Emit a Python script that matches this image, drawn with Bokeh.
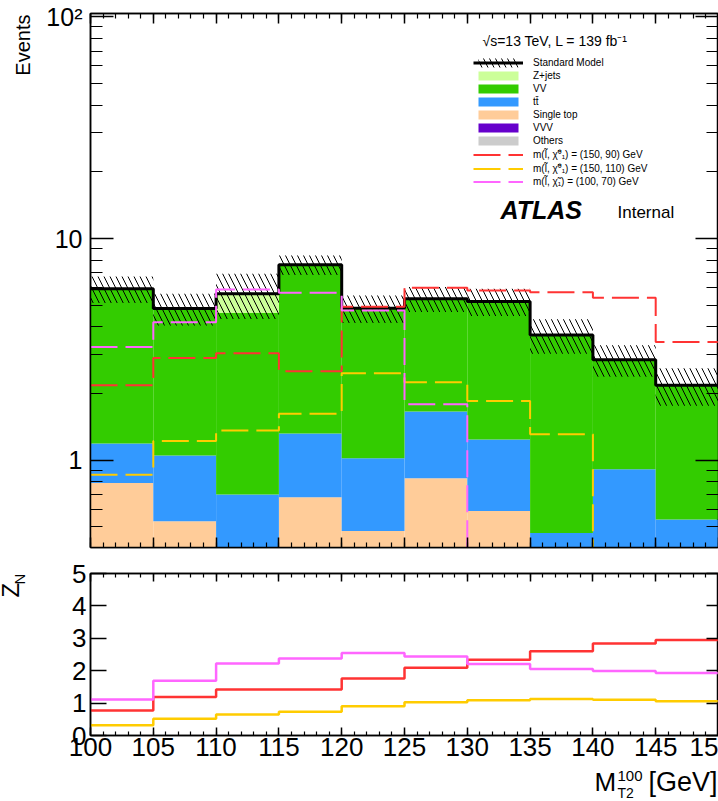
import numpy as np
from bokeh.plotting import figure
from bokeh.models import (ColumnDataSource, FixedTicker, LinearAxis, LogAxis,
                          Label, Legend, LegendItem, Range1d)
from bokeh.layouts import column, row
from bokeh.embed import file_html
from bokeh.resources import INLINE

# ---------------- data ----------------
bin_edges = [100, 105, 110, 115, 120, 125, 130, 135, 140, 145, 150]
# the last tick label is cut by the right edge in the reference ("15")
x_tick_labels = ["100", "105", "110", "115", "120", "125", "130", "135", "140", "145", "15"]

others = [0.0, 0.0, 0.0, 0.0, 0.0, 0.0, 0.0, 0.0, 0.0, 0.0]
vvv = [0.0, 0.0, 0.0, 0.0, 0.0, 0.0, 0.0, 0.0, 0.0, 0.0]
single_top = [0.79, 0.53, 0.30, 0.68, 0.48, 0.83, 0.59, 0.0, 0.0, 0.0]
ttbar = [0.40, 0.52, 0.40, 0.64, 0.54, 0.83, 0.65, 0.47, 0.91, 0.54]
vv = [4.74, 3.79, 3.91, 6.29, 3.83, 3.69, 3.96, 3.20, 1.93, 1.64]
zjets = [0.0, 0.0, 1.02, 0.0, 0.0, 0.0, 0.0, 0.0, 0.0, 0.0]
sm_unc = [0.81, 0.79, 1.30, 0.77, 0.69, 0.69, 0.73, 0.65, 0.46, 0.42]

sig_150_90 = [2.18, 2.89, 3.04, 2.52, 4.92, 6.00, 5.83, 5.73, 5.41, 3.41]
sig_150_110 = [0.86, 1.22, 1.36, 1.62, 2.47, 2.25, 1.85, 1.31, 0.0, 0.0]
sig_100_70 = [3.24, 4.19, 5.89, 5.69, 4.74, 1.79, 0.0, 0.0, 0.0, 0.0]

zn_150_90 = [0.77, 1.19, 1.42, 1.42, 1.76, 2.09, 2.34, 2.60, 2.84, 2.95]
zn_150_110 = [0.32, 0.52, 0.65, 0.73, 0.90, 1.03, 1.09, 1.13, 1.10, 1.06]
zn_100_70 = [1.11, 1.69, 2.22, 2.38, 2.55, 2.44, 2.21, 2.05, 1.99, 1.93]

# ---------------- styles ----------------
FONT = "Liberation Sans"
C_ZJ = "#ccff99"
C_VV = "#33cc00"
C_TT = "#3399ff"
C_ST = "#ffcc99"
C_VVV = "#6600cc"
C_OTH = "#cccccc"
C_RED = "#ff3333"
C_YEL = "#ffcc00"
C_MAG = "#ff66ff"
FLOOR = 1e-3

left = bin_edges[:-1]
right = bin_edges[1:]


def step_y(vals):
    v = [max(a, FLOOR) for a in vals]
    return v + [v[-1]]


def style_axis(ax, major_in, minor_in, labels=True, fs="25px", standoff=8):
    ax.major_tick_in = major_in
    ax.major_tick_out = 0
    ax.minor_tick_in = minor_in
    ax.minor_tick_out = 0
    ax.axis_line_color = "black"
    ax.axis_line_width = 1.5
    ax.major_tick_line_color = "black"
    ax.minor_tick_line_color = "black" if minor_in > 0 else None
    ax.major_tick_line_width = 1.5
    ax.minor_tick_line_width = 1.2
    if labels:
        ax.major_label_text_font = FONT
        ax.major_label_text_font_size = fs
        ax.major_label_text_color = "black"
        ax.major_label_standoff = standoff
    else:
        ax.major_label_text_font_size = "1px"
        ax.major_label_text_color = None
        ax.major_label_standoff = 0


def blank(w, h):
    f = figure(width=w, height=h, x_range=Range1d(0, 1), y_range=Range1d(0, 1),
               output_backend="svg", toolbar_location=None, min_border=0,
               x_axis_location=None, y_axis_location=None)
    f.outline_line_color = None
    f.grid.visible = False
    return f


def lab(fig, x, y, text, size, **kw):
    kw.setdefault("text_baseline", "middle")
    fig.add_layout(Label(x=x, y=y, x_units="screen", y_units="screen", text=text,
                         text_font=FONT, text_font_size=size, text_color="black",
                         **kw))


# ---------------- upper panel ----------------
p1 = figure(width=678, height=560, x_range=Range1d(100, 150),
            y_range=Range1d(0.404, 103.5), y_axis_type="log",
            output_backend="svg", toolbar_location=None,
            min_border_left=50, min_border_right=0, min_border_top=13,
            min_border_bottom=13)
p1.xgrid.visible = False
p1.ygrid.visible = False
p1.outline_line_color = "black"
p1.outline_line_width = 1.5

layers = [("Others", others, C_OTH), ("VVV", vvv, C_VVV),
          ("Single top", single_top, C_ST), ("tt\u0304", ttbar, C_TT),
          ("VV", vv, C_VV), ("Z+jets", zjets, C_ZJ)]
cum = np.zeros(len(left))
stack_r = {}
for name, vals, col in layers:
    vals = np.array(vals, dtype=float)
    bottom = np.maximum(cum, FLOOR)
    top = np.maximum(cum + vals, FLOOR)
    src = ColumnDataSource(dict(left=left, right=right, bottom=bottom, top=top))
    r = p1.quad(left="left", right="right", bottom="bottom", top="top",
                source=src, fill_color=col, line_color=None)
    stack_r[name] = r
    cum = cum + vals
total = cum

unc_src = ColumnDataSource(dict(left=left, right=right,
                                bottom=total - np.array(sm_unc),
                                top=total + np.array(sm_unc)))
r_unc = p1.quad(left="left", right="right", bottom="bottom", top="top",
                source=unc_src, fill_alpha=0, line_color=None,
                hatch_pattern="\\", hatch_color="black", hatch_scale=12,
                hatch_weight=1)
r_tot = p1.step(bin_edges, step_y(list(total)), mode="after",
                line_color="black", line_width=3)

DASH = "27 8"
r_s1 = p1.step(bin_edges, step_y(sig_150_90), mode="after", line_color=C_RED,
               line_width=2, line_dash=DASH)
r_s2 = p1.step(bin_edges, step_y(sig_150_110), mode="after", line_color=C_YEL,
               line_width=2, line_dash=DASH)
r_s3 = p1.step(bin_edges, step_y(sig_100_70), mode="after", line_color=C_MAG,
               line_width=2, line_dash=DASH)

xt = FixedTicker(ticks=bin_edges, minor_ticks=list(range(100, 151)))
yt = FixedTicker(ticks=[1, 10, 100],
                 minor_ticks=[0.5, 0.6, 0.7, 0.8, 0.9, 2, 3, 4, 5, 6, 7, 8, 9,
                              20, 30, 40, 50, 60, 70, 80, 90])
p1.xaxis[0].ticker = xt
style_axis(p1.xaxis[0], 10, 5, labels=False)
p1.yaxis[0].ticker = yt
p1.yaxis[0].major_label_overrides = {1: "1", 10: "10", 100: "10\u00b2"}
style_axis(p1.yaxis[0], 23, 12, labels=True, fs="25px", standoff=8)

ax_top = LinearAxis(ticker=xt)
style_axis(ax_top, 10, 5, labels=False)
p1.add_layout(ax_top, "above")
ax_right = LogAxis(ticker=yt)
style_axis(ax_right, 23, 12, labels=False)
p1.add_layout(ax_right, "right")

# frame of p1: canvas x 90.., y 13..547  (labels: y = 547 - canvas_y)
lab(p1, 482 - 90, 547 - 40, "\u221as=13 TeV, L = 139 fb\u207b\u00b9", "14px")
lab(p1, 500 - 90, 547 - 209, "ATLAS", "25px", text_font_style="bold italic")
lab(p1, 617 - 90, 547 - 212, "Internal", "17px")

legend = Legend(items=[
    LegendItem(label="Standard Model", renderers=[r_unc, r_tot]),
    LegendItem(label="Z+jets", renderers=[stack_r["Z+jets"]]),
    LegendItem(label="VV", renderers=[stack_r["VV"]]),
    LegendItem(label="tt\u0304", renderers=[stack_r["tt\u0304"]]),
    LegendItem(label="Single top", renderers=[stack_r["Single top"]]),
    LegendItem(label="VVV", renderers=[stack_r["VVV"]]),
    LegendItem(label="Others", renderers=[stack_r["Others"]]),
    LegendItem(label="m(l\u0303, \u03c7\u0303\u2070\u2081) = (150, 90) GeV", renderers=[r_s1]),
    LegendItem(label="m(l\u0303, \u03c7\u0303\u2070\u2081) = (150, 110) GeV", renderers=[r_s2]),
    LegendItem(label="m(l\u0303, \u03c7\u0303\u2081) = (100, 70) GeV", renderers=[r_s3]),
], location=(383, 359))
legend.glyph_width = 50
legend.glyph_height = 11
legend.label_height = 13
legend.spacing = 0
legend.padding = 0
legend.margin = 0
legend.label_standoff = 10
legend.border_line_color = None
legend.background_fill_alpha = 0
legend.label_text_font = FONT
legend.label_text_font_size = "10px"
legend.label_text_color = "black"
p1.add_layout(legend)

# left strip; its frame is aligned with p1's frame (canvas y 13..547)
pe = blank(40, 560)
lab(pe, 22, 547 - 14, "Events", "20px", angle=np.pi / 2, text_align="right")

# ---------------- lower panel ----------------
p2 = figure(width=688, height=208, x_range=Range1d(100, 150),
            y_range=Range1d(0, 5), output_backend="svg",
            toolbar_location=None, min_border_left=60, min_border_right=0,
            min_border_top=13, min_border_bottom=33)
p2.xgrid.visible = False
p2.ygrid.visible = False
p2.outline_line_color = "black"
p2.outline_line_width = 1.5

p2.step(bin_edges, zn_150_90 + [zn_150_90[-1]], mode="after", line_color=C_RED, line_width=2.5)
p2.step(bin_edges, zn_150_110 + [zn_150_110[-1]], mode="after", line_color=C_YEL, line_width=2.5)
p2.step(bin_edges, zn_100_70 + [zn_100_70[-1]], mode="after", line_color=C_MAG, line_width=2.5)

xt2 = FixedTicker(ticks=bin_edges, minor_ticks=list(range(100, 151)))
yt2 = FixedTicker(ticks=[0, 1, 2, 3, 4, 5])
p2.xaxis[0].ticker = xt2
p2.xaxis[0].major_label_overrides = {e: l for e, l in zip(bin_edges, x_tick_labels)}
style_axis(p2.xaxis[0], 8, 4, labels=True, fs="26px", standoff=2)
p2.yaxis[0].ticker = yt2
style_axis(p2.yaxis[0], 16, 0, labels=True, fs="26px", standoff=4)
ax_top2 = LinearAxis(ticker=xt2)
style_axis(ax_top2, 8, 4, labels=False)
p2.add_layout(ax_top2, "above")
ax_right2 = LinearAxis(ticker=yt2)
style_axis(ax_right2, 12, 0, labels=False)
p2.add_layout(ax_right2, "right")

# left strip; its frame is aligned with p2's frame (canvas y 573..735)
pz = blank(30, 208)
lab(pz, 10, 735 - 597, "Z", "24px", angle=np.pi / 2, text_align="left")
lab(pz, 19, 735 - 584, "N", "15px", angle=np.pi / 2, text_align="left")

# bottom strip (canvas y 768..801) with the x title
px = blank(718, 33)
lab(px, 594, 801 - 781, "M", "26px")
lab(px, 617, 801 - 775, "100", "15px")
lab(px, 617, 801 - 792, "T2", "14px")
lab(px, 717, 801 - 781, "[GeV]", "27px", text_align="right")

layout = column(row(pe, p1, spacing=0), row(pz, p2, spacing=0), px, spacing=0)
open("out.html", "w").write(file_html(layout, INLINE))
